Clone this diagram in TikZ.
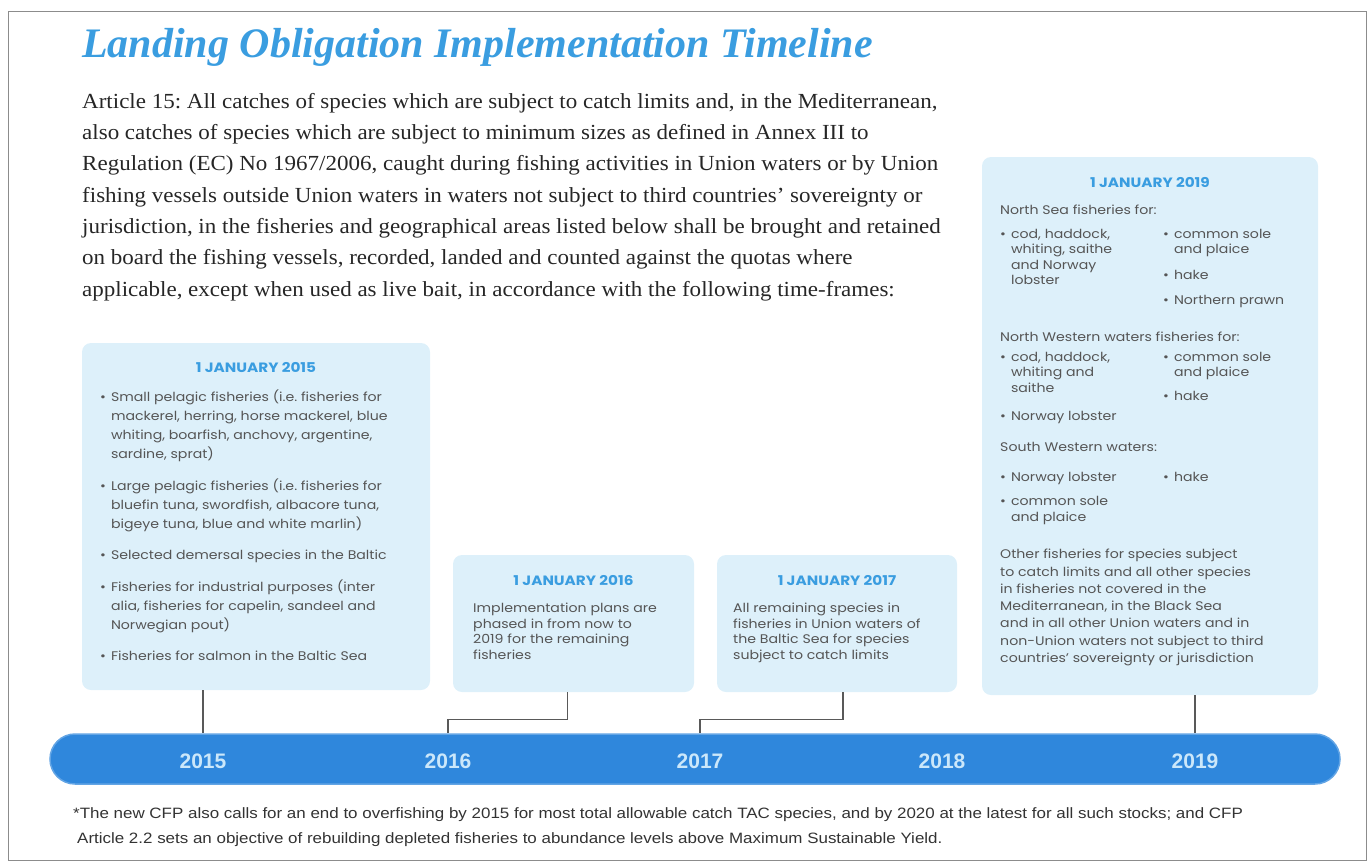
\documentclass[tikz,border=0pt]{standalone}
\usepackage{fontspec}
\setmainfont{Liberation Serif}
\newfontfamily\artfont[FakeStretch=1.07]{Liberation Serif}
\newfontfamily\boxfont[FakeStretch=1.13]{Poppins}
\newfontfamily\notefont[FakeStretch=1.13]{Liberation Sans}
\newfontfamily\yearfont{Liberation Sans}
\usetikzlibrary{positioning}
\frenchspacing

\definecolor{titleblue}{HTML}{3A9DE0}
\definecolor{boxblue}{HTML}{DDF0FA}
\definecolor{barblue}{HTML}{2F87DC}
\definecolor{yearblue}{HTML}{CBE7FA}
\definecolor{bodygray}{HTML}{555555}

% bullet lists in the panels
\newcommand{\blist}[1]{\begin{tabular}{@{}l@{\hspace{5pt}}l@{}}#1\end{tabular}}
\newcommand{\bt}{\textbullet &}

\begin{document}
\begin{tikzpicture}[x=1pt, y=-1pt, every node/.style={inner sep=0pt},
    panel/.style={fill=boxblue, rounded corners=9pt},
    date/.style={font=\boxfont\bfseries\fontsize{13.5}{15}\selectfont, text=titleblue},
    body/.style={font=\boxfont\fontsize{12.5}{15.5}\selectfont, text=bodygray, align=left, anchor=north west},
    link/.style={draw=black!65, line width=1.2pt},
    year/.style={font=\yearfont\bfseries\fontsize{21}{21}\selectfont, text=yearblue}]
  \useasboundingbox (0,0) rectangle (1372,863);
  \draw[black!45, line width=1pt] (8,11) rectangle (1366,860);

  \node[anchor=base west, font=\bfseries\itshape\fontsize{42}{42}\selectfont, text=titleblue] (title) at (82,57)
    {Landing Obligation Implementation Timeline};
  \node[anchor=north west, align=left, font=\artfont\fontsize{21.5}{31.3}\selectfont, text=black!85] (article) at (82,93)
    {Article 15: All catches of species which are subject to catch limits and, in the Mediterranean,\\
     also catches of species which are subject to minimum sizes as defined in Annex III to\\
     Regulation (EC) No 1967/2006, caught during fishing activities in Union waters or by Union\\
     fishing vessels outside Union waters in waters not subject to third countries’ sovereignty or\\
     jurisdiction, in the fisheries and geographical areas listed below shall be brought and retained\\
     on board the fishing vessels, recorded, landed and counted against the quotas where\\
     applicable, except when used as live bait, in accordance with the following time-frames:};

  % panels
  \node[panel, minimum width=348pt, minimum height=347pt] (p15) at (256,516.5) {};
  \node[panel, minimum width=241pt, minimum height=137pt] (p16) at (573.5,623.5) {};
  \node[panel, minimum width=240pt, minimum height=137pt] (p17) at (837,623.5) {};
  \node[panel, minimum width=336pt, minimum height=538pt] (p19) at (1150,426) {};

  \node[date] (d15) at (256,368) {1 JANUARY 2015};
  \node[body, font=\boxfont\fontsize{12.5}{19}\selectfont] (l15) at (100,388) {\blist{
    \bt Small pelagic fisheries (i.e. fisheries for\\
        & mackerel, herring, horse mackerel, blue\\
        & whiting, boarfish, anchovy, argentine,\\
        & sardine, sprat)\\[12.5pt]
    \bt Large pelagic fisheries (i.e. fisheries for\\
        & bluefin tuna, swordfish, albacore tuna,\\
        & bigeye tuna, blue and white marlin)\\[12.5pt]
    \bt Selected demersal species in the Baltic\\[12.5pt]
    \bt Fisheries for industrial purposes (inter\\
        & alia, fisheries for capelin, sandeel and\\
        & Norwegian pout)\\[12.5pt]
    \bt Fisheries for salmon in the Baltic Sea}};

  \node[date] (d16) at (573.5,580) {1 JANUARY 2016};
  \node[body] (t16) at (473,603)
    {Implementation plans are\\phased in from now to\\2019 for the remaining\\fisheries};

  \node[date] (d17) at (837,580) {1 JANUARY 2017};
  \node[body] (t17) at (733,603)
    {All remaining species in\\fisheries in Union waters of\\the Baltic Sea for species\\subject to catch limits};

  \node[date] (d19) at (1150,182) {1 JANUARY 2019};
  \node[body] (ns) at (1000,205) {North Sea fisheries for:};
  \node[body] (ns1) at (1000,227) {\blist{\bt cod, haddock,\\ & whiting, saithe\\ & and Norway\\ & lobster}};
  \node[body] (ns2) at (1163,227) {\blist{\bt common sole\\ & and plaice\\[10pt] \bt hake\\[10pt] \bt Northern prawn}};
  \node[body] (nw) at (1000,332) {North Western waters fisheries for:};
  \node[body] (nw1) at (1000,350) {\blist{\bt cod, haddock,\\ & whiting and\\ & saithe\\[13pt] \bt Norway lobster}};
  \node[body] (nw2) at (1163,350) {\blist{\bt common sole\\ & and plaice\\[8pt] \bt hake}};
  \node[body] (sw) at (1000,442) {South Western waters:};
  \node[body] (sw1) at (1000,470) {\blist{\bt Norway lobster\\[9pt] \bt common sole\\ & and plaice}};
  \node[body] (sw2) at (1163,470) {\blist{\bt hake}};
  \node[body, font=\boxfont\fontsize{12.5}{17.3}\selectfont] (oth) at (1000,549)
    {Other fisheries for species subject\\to catch limits and all other species\\in fisheries not covered in the\\
     Mediterranean, in the Black Sea\\and in all other Union waters and in\\non-Union waters not subject to third\\
     countries’ sovereignty or jurisdiction};

  % timeline bar
  \node[fill=barblue, draw=barblue!75!white, line width=1.5pt, rounded corners=25pt,
        minimum width=1290pt, minimum height=50pt] (bar) at (695,759) {};
  \foreach \yr/\xx in {2015/203, 2016/448, 2017/700, 2018/942, 2019/1195}
    \node[year] (y\yr) at (\xx,761) {\yr};

  \draw[link] (p15.south -| y2015) -- (y2015 |- bar.north);
  \draw[link] ([xshift=-6pt]p16.south) -- ++(0,27) -| (y2016 |- bar.north);
  \draw[link] ([xshift=6pt]p17.south) -- ++(0,27) -| (y2017 |- bar.north);
  \draw[link] (p19.south -| y2019) -- (y2019 |- bar.north);

  \node[anchor=north west, align=left, font=\notefont\fontsize{15}{25}\selectfont, text=black!80] (note) at (73,807)
    {*The new CFP also calls for an end to overfishing by 2015 for most total allowable catch TAC species, and by 2020 at the latest for all such stocks; and CFP\\
     \hspace*{4pt}Article 2.2 sets an objective of rebuilding depleted fisheries to abundance levels above Maximum Sustainable Yield.};
\end{tikzpicture}
\end{document}
